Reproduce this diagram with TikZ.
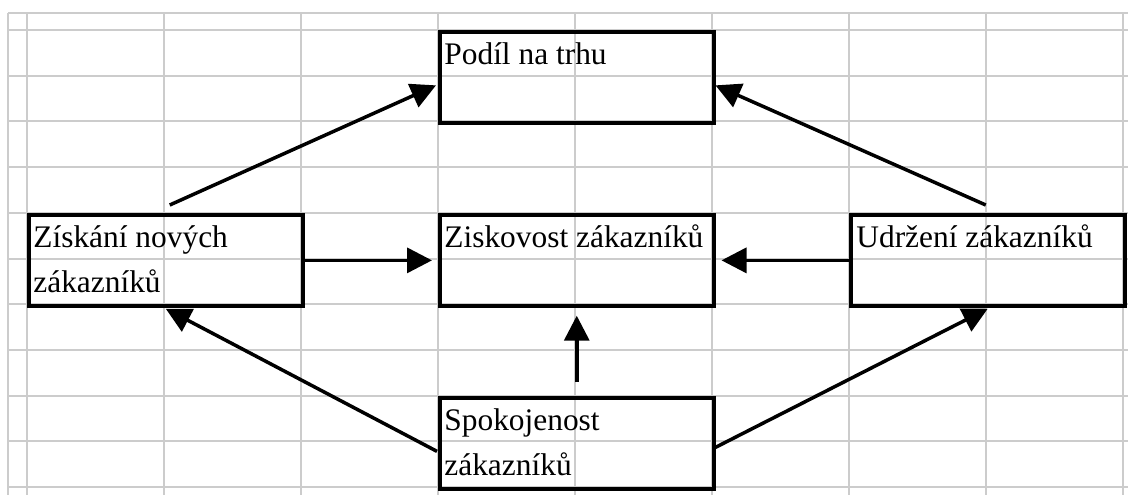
\documentclass[tikz,border=0pt]{standalone}
\usepackage{fontspec}
\setmainfont{Liberation Serif}
\usetikzlibrary{arrows.meta,calc}
\definecolor{gridgray}{RGB}{204,204,204}
\tikzset{
  gridline/.style={draw=gridgray, line width=1pt},
  boxnode/.style={draw=black, line width=1.75pt, rectangle, inner sep=0pt,
    minimum width=137pt, minimum height=45.6pt, anchor=north west},
  txt/.style={inner sep=0pt, anchor=base west, font=\fontsize{15.7}{22.5}\selectfont},
  arr/.style={draw=black, line width=1.75pt, -{Triangle[length=12.5pt,width=12.5pt]}}
}
\begin{document}
\begin{tikzpicture}[x=0.5pt,y=-0.5pt]
\useasboundingbox (0,0) rectangle (1128,495);
% grid
\foreach \x in {8,27,164,301,438,575,712,849,986,1123}
  \draw[gridline] (\x,13) -- (\x,495);
\foreach \y in {13,30,75.7,121.4,167.1,212.8,258.5,304.2,349.9,395.6,441.3,487}
  \draw[gridline] (8,\y) -- (1128,\y);
% boxes
\node[boxnode] (pod) at (438,30) {};
\node[boxnode] (zis) at (27,213) {};
\node[boxnode] (zsk) at (438,213) {};
\node[boxnode] (udr) at (849,213) {};
\node[boxnode] (spo) at (438,396) {};
% texts
\node[txt] (podT) at ($(pod.north west)+(6,34)$) {Podíl na trhu};
\node[txt] (zisT) at ($(zis.north west)+(6,34)$) {\vtop{\hbox{Získání nových}\hbox{zákazníků}}};
\node[txt] (zskT) at ($(zsk.north west)+(6,34)$) {Ziskovost zákazníků};
\node[txt] (udrT) at ($(udr.north west)+(7,34)$) {Udržení zákazníků};
\node[txt] (spoT) at ($(spo.north west)+(6,34)$) {\vtop{\hbox{Spokojenost}\hbox{zákazníků}}};
% connectors
\draw[arr] ($(zis.north)+(4,-8)$) -- ($(pod.west)+(-2,8)$);
\draw[arr] ($(udr.north)+(-2,-8)$) -- ($(pod.east)+(0,8)$);
\draw[arr] (zis.east) -- ($(zsk.west)+(-6,0)$);
\draw[arr] (udr.west) -- ($(zsk.east)+(6,0)$);
\draw[arr] ($(spo.north)+(0,-14)$) -- ($(zsk.south)+(0,8)$);
\draw[arr] ($(spo.west)+(-1,8)$) -- ($(zis.south)+(0,1)$);
\draw[arr] ($(spo.east)+(0,4)$) -- ($(udr.south)+(0,1)$);
\end{tikzpicture}
\end{document}
